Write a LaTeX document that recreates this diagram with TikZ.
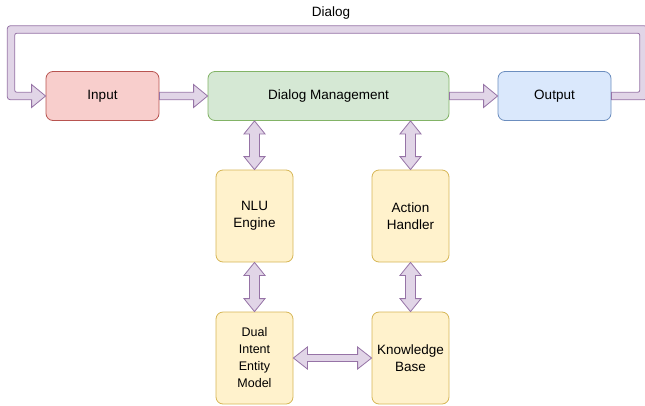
\documentclass[tikz,border=0pt]{standalone}
\usepackage{fontspec}
\setmainfont{Liberation Sans}
\usetikzlibrary{calc}
\definecolor{redF}{HTML}{F8CECC}\definecolor{redS}{HTML}{B85450}
\definecolor{grnF}{HTML}{D5E8D4}\definecolor{grnS}{HTML}{82B366}
\definecolor{bluF}{HTML}{DAE8FC}\definecolor{bluS}{HTML}{6C8EBF}
\definecolor{ylwF}{HTML}{FFF2CC}\definecolor{ylwS}{HTML}{D6B656}
\definecolor{purF}{HTML}{E1D5E7}\definecolor{purS}{HTML}{9673A6}
\tikzset{
  box/.style={draw, line width=0.8pt, rounded corners=7pt, align=center, inner sep=0pt,
    font=\fontsize{13.5}{16.5}\selectfont},
  wide/.style={minimum width=113pt, minimum height=49pt},
  tall/.style={minimum width=77pt, minimum height=92pt},
  fat/.style={draw=purS, fill=purF, line width=0.8pt, line join=miter},
}
% horizontal double arrow between left point #1 and right point #2
\newcommand\hdarrow[2]{\path[fat] let \p1=#1, \p2=#2 in
  (\x1,\y1) -- (\x1+14pt,\y1+11pt) -- (\x1+14pt,\y1+3.5pt) -- (\x2-14pt,\y1+3.5pt) -- (\x2-14pt,\y1+11pt)
  -- (\x2,\y1) -- (\x2-14pt,\y1-11pt) -- (\x2-14pt,\y1-3.5pt) -- (\x1+14pt,\y1-3.5pt) -- (\x1+14pt,\y1-11pt) -- cycle;}
% horizontal single arrow from #1 to tip #2
\newcommand\harrow[2]{\path[fat] let \p1=#1, \p2=#2 in
  (\x1,\y1+3.75pt) -- (\x2-14pt,\y1+3.75pt) -- (\x2-14pt,\y1+11.5pt) -- (\x2,\y1)
  -- (\x2-14pt,\y1-11.5pt) -- (\x2-14pt,\y1-3.75pt) -- (\x1,\y1-3.75pt) -- cycle;}
% vertical double arrow between top point #1 and bottom point #2
\newcommand\vdarrow[2]{\path[fat] let \p1=#1, \p2=#2 in
  (\x1,\y1) -- (\x1+10.5pt,\y1-13pt) -- (\x1+5pt,\y1-13pt) -- (\x1+5pt,\y2+13pt) -- (\x1+10.5pt,\y2+13pt)
  -- (\x1,\y2) -- (\x1-10.5pt,\y2+13pt) -- (\x1-5pt,\y2+13pt) -- (\x1-5pt,\y1-13pt) -- (\x1-10.5pt,\y1-13pt) -- cycle;}
\begin{document}
\begin{tikzpicture}[x=1pt,y=-1pt]
\useasboundingbox (0,0) rectangle (645,405);
\node[box, wide, fill=redF, draw=redS] (in) at (102.5,96) {Input};
\node[box, fill=grnF, draw=grnS, minimum width=241pt, minimum height=49pt] (dm) at (328.5,96) {Dialog Management};
\node[box, wide, fill=bluF, draw=bluS] (out) at (554.5,96) {Output};
\node[box, tall, fill=ylwF, draw=ylwS] (nlu) at (254.5,216) {NLU\\Engine};
\node[box, tall, fill=ylwF, draw=ylwS] (act) at (410.5,216) {Action\\Handler};
\node[box, tall, fill=ylwF, draw=ylwS, font=\fontsize{12.5}{17}\selectfont] (dual) at (254.5,358) {Dual\\Intent\\Entity\\Model};
\node[box, tall, fill=ylwF, draw=ylwS] (kb) at (410.5,358) {Knowledge\\Base};
\node[font=\fontsize{13.5}{16}\selectfont] (lbl) at (331,13) {Dialog};
\coordinate (loopR) at (643.5,29.5);
\coordinate (loopL) at (11,29.5);
% arrows
\harrow{(in.east)}{(dm.west)}
\harrow{(dm.east)}{(out.west)}
\vdarrow{(nlu.north |- dm.south)}{(nlu.north)}
\vdarrow{(act.north |- dm.south)}{(act.north)}
\vdarrow{(nlu.south)}{(dual.north)}
\vdarrow{(act.south)}{(kb.north)}
\hdarrow{(dual.east)}{(kb.west)}
% feedback loop
\path[fat] let \p1=(out.east), \p2=(in.west), \p3=(loopR), \p4=(loopL) in
  (\x1,\y1-3.75pt) [rounded corners=3pt] -- (\x3+3.75pt,\y1-3.75pt) -- (\x3+3.75pt,\y3+3.75pt) -- (\x4-3.75pt,\y3+3.75pt)
  -- (\x4-3.75pt,\y2-3.75pt) [sharp corners] -- (\x2-14pt,\y2-3.75pt) -- (\x2-14pt,\y2-11.5pt) -- (\x2,\y2)
  -- (\x2-14pt,\y2+11.5pt) -- (\x2-14pt,\y2+3.75pt) [rounded corners=2pt] -- (\x4+3.75pt,\y2+3.75pt) -- (\x4+3.75pt,\y3-3.75pt)
  -- (\x3-3.75pt,\y3-3.75pt) -- (\x3-3.75pt,\y1+3.75pt) [sharp corners] -- (\x1,\y1+3.75pt) -- cycle;
\end{tikzpicture}
\end{document}
